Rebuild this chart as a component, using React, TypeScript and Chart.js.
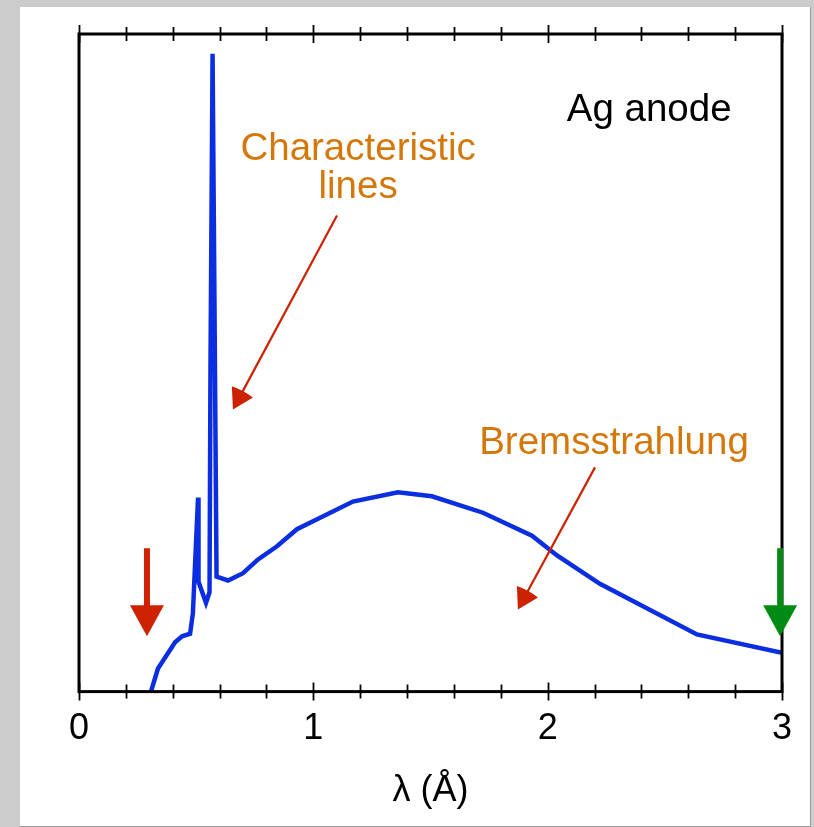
import React, { useEffect, useRef } from "react";
import { Chart, registerables } from "chart.js";

Chart.register(...registerables);

// X-ray tube emission spectrum of a silver anode (arbitrary intensity units)
const wavelength = [
  0.307, 0.337, 0.41, 0.44, 0.474, 0.486, 0.508, 0.51, 0.542, 0.557, 0.561, 0.57,
  0.587, 0.636, 0.7, 0.764, 0.845, 0.93, 1.016, 1.169, 1.361, 1.506, 1.724, 1.933,
  2.04, 2.223, 2.637, 3.0,
];
const intensity = [
  0, 3.5, 7.5, 8.4, 8.8, 11.9, 29.5, 16.7, 13.5, 15.1, 48.9, 97.0,
  17.5, 16.9, 18.0, 20.1, 22.1, 24.7, 26.2, 28.9, 30.3, 29.7, 27.2, 23.7,
  20.7, 16.4, 8.7, 5.9,
];

const xMin = 0;
const xMax = 3;
const majorStep = 1;
const minorStep = 0.2;
const axisTitle = "λ (Å)";

const anodeLabel = "Ag anode";
const characteristicLabel = ["Characteristic", "lines"];
const bremsLabel = "Bremsstrahlung";

// Cut-off wavelength (short side) and long-wavelength end markers
const cutoffWavelength = 0.29;
const longEndWavelength = 2.992;

const FONT = '"Liberation Sans", Arial, Helvetica, sans-serif';
const ORANGE = "#d5780c";
const RED = "#cc2200";
const GREEN = "#008c14";
const BLUE = "#0b2fe0";

function drawThinArrow(ctx, x0, y0, x1, y1, color) {
  const dx = x1 - x0;
  const dy = y1 - y0;
  const len = Math.hypot(dx, dy);
  const ux = dx / len;
  const uy = dy / len;
  const headLen = 20;
  const halfW = 12;
  const bx = x1 - ux * headLen;
  const by = y1 - uy * headLen;
  ctx.save();
  ctx.strokeStyle = color;
  ctx.fillStyle = color;
  ctx.lineWidth = 2.2;
  ctx.beginPath();
  ctx.moveTo(x0, y0);
  ctx.lineTo(bx + ux * 4, by + uy * 4);
  ctx.stroke();
  ctx.beginPath();
  ctx.moveTo(x1, y1);
  ctx.lineTo(bx - uy * halfW, by + ux * halfW);
  ctx.quadraticCurveTo(bx - ux * 2, by - uy * 2, bx + uy * halfW, by - ux * halfW);
  ctx.closePath();
  ctx.fill();
  ctx.restore();
}

function drawThickDownArrow(ctx, x, yTop, yTip, color) {
  const headLen = 31;
  const halfHead = 17;
  const halfShaft = 3;
  const yBase = yTip - headLen;
  ctx.save();
  ctx.fillStyle = color;
  ctx.fillRect(x - halfShaft, yTop, halfShaft * 2, yBase - yTop + 1);
  ctx.beginPath();
  ctx.moveTo(x - halfHead, yBase);
  ctx.lineTo(x + halfHead, yBase);
  ctx.lineTo(x, yTip);
  ctx.closePath();
  ctx.fill();
  ctx.restore();
}

const framePlugin = {
  id: "spectrumFrame",
  afterDatasetsDraw(chart) {
    const { ctx, chartArea } = chart;
    const xs = chart.scales.x;
    const ys = chart.scales.y;
    const { left, right, top, bottom } = chartArea;

    ctx.save();
    // ticks crossing the top and bottom axes
    ctx.strokeStyle = "#000";
    ctx.lineWidth = 1.8;
    const n = Math.round((xMax - xMin) / minorStep);
    for (let i = 0; i <= n; i++) {
      const v = xMin + i * minorStep;
      const major = Math.abs(v / majorStep - Math.round(v / majorStep)) < 1e-6;
      const px = Math.round(xs.getPixelForValue(v)) + 0.5;
      const h = major ? 9 : 7;
      ctx.beginPath();
      ctx.moveTo(px, bottom - h);
      ctx.lineTo(px, bottom + h);
      ctx.moveTo(px, top - h);
      ctx.lineTo(px, top + h);
      ctx.stroke();
    }
    // plot frame
    ctx.lineWidth = 3;
    ctx.strokeRect(left, top, right - left, bottom - top);
    ctx.restore();

    // annotations
    ctx.save();
    ctx.font = `38.5px ${FONT}`;
    ctx.textAlign = "center";
    ctx.textBaseline = "alphabetic";
    ctx.fillStyle = "#000";
    ctx.fillText(anodeLabel, xs.getPixelForValue(2.433), ys.getPixelForValue(86.8));
    ctx.fillStyle = ORANGE;
    ctx.fillText(characteristicLabel[0], xs.getPixelForValue(1.191), ys.getPixelForValue(80.8));
    ctx.fillText(characteristicLabel[1], xs.getPixelForValue(1.191), ys.getPixelForValue(75.0));
    ctx.fillText(bremsLabel, xs.getPixelForValue(2.283), ys.getPixelForValue(36.2));
    ctx.restore();

    drawThinArrow(
      ctx,
      xs.getPixelForValue(1.101), ys.getPixelForValue(72.4),
      xs.getPixelForValue(0.657), ys.getPixelForValue(42.9),
      RED
    );
    drawThinArrow(
      ctx,
      xs.getPixelForValue(2.202), ys.getPixelForValue(34.1),
      xs.getPixelForValue(1.873), ys.getPixelForValue(12.5),
      RED
    );
    drawThickDownArrow(
      ctx,
      xs.getPixelForValue(cutoffWavelength),
      ys.getPixelForValue(21.8),
      ys.getPixelForValue(8.4),
      RED
    );
    drawThickDownArrow(
      ctx,
      xs.getPixelForValue(longEndWavelength),
      ys.getPixelForValue(21.8),
      ys.getPixelForValue(8.4),
      GREEN
    );
  },
};

function SpectrumChart() {
  const canvasRef = useRef(null);

  useEffect(() => {
    const points = wavelength.map((x, i) => ({ x, y: intensity[i] }));
    const chart = new Chart(canvasRef.current, {
      type: "line",
      data: {
        datasets: [
          {
            data: points,
            borderColor: BLUE,
            borderWidth: 4.5,
            pointRadius: 0,
            tension: 0,
            fill: false,
            borderJoinStyle: "miter",
          },
        ],
      },
      options: {
        responsive: false,
        animation: false,
        events: [],
        devicePixelRatio: 1,
        layout: { padding: { left: 79, right: 32, top: 34, bottom: 14 } },
        plugins: {
          legend: { display: false },
          tooltip: { enabled: false },
        },
        scales: {
          x: {
            type: "linear",
            min: xMin,
            max: xMax,
            grid: { display: false, drawTicks: false },
            border: { display: false },
            ticks: {
              stepSize: majorStep,
              color: "#000",
              padding: 16,
              maxRotation: 0,
              autoSkip: false,
              font: { family: FONT, size: 36 },
            },
            title: {
              display: true,
              text: axisTitle,
              color: "#000",
              font: { family: FONT, size: 36 },
              padding: { top: 3, bottom: 0 },
            },
          },
          y: {
            type: "linear",
            min: 0,
            max: 100,
            display: false,
          },
        },
      },
      plugins: [framePlugin],
    });
    return () => chart.destroy();
  }, []);

  return (
    <canvas
      ref={canvasRef}
      width={814}
      height={827}
      style={{ position: "absolute", left: 0, top: 0, width: 814, height: 827 }}
    />
  );
}

export default function App() {
  return (
    <div style={{ position: "fixed", left: 0, top: 0, width: 814, height: 827, background: "#cccccc", overflow: "hidden" }}>
      <div
        style={{
          position: "absolute",
          left: 20,
          top: 7,
          width: 790,
          height: 819,
          background: "#ffffff",
          borderRight: "1px solid #9a9a9a",
          borderBottom: "1px solid #9a9a9a",
        }}
      />
      <SpectrumChart />
    </div>
  );
}
